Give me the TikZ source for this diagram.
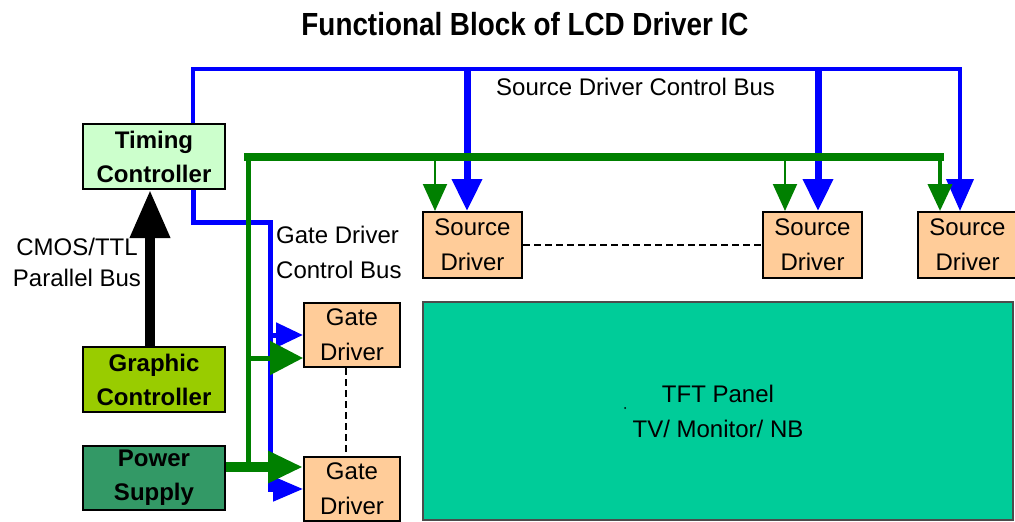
\documentclass[tikz,border=0pt]{standalone}
\usepackage{fontspec}
\setmainfont{Liberation Sans}
\usetikzlibrary{arrows.meta}

\definecolor{busblue}{HTML}{0000FF}
\definecolor{busgreen}{HTML}{008000}
\definecolor{drvfill}{HTML}{FFCC99}
\definecolor{tcfill}{HTML}{CCFFCC}
\definecolor{gcfill}{HTML}{99CC00}
\definecolor{psfill}{HTML}{339966}
\definecolor{tftfill}{HTML}{00CC99}

\tikzset{
  block/.style={draw=black, line width=2pt, inner sep=0pt, align=center},
  ctrlblock/.style={block, minimum width=142pt, minimum height=65pt,
    font=\bfseries\fontsize{24}{34}\selectfont},
  drvblock/.style={block, fill=drvfill, font=\fontsize{24}{35}\selectfont},
  buslabel/.style={inner sep=0pt, font=\fontsize{24}{35}\selectfont},
  sbus/.style={draw=busblue, line width=4pt},
  gbus/.style={draw=busgreen, line width=5pt},
  linkdash/.style={draw=black, line width=1.5pt, dash pattern=on 7pt off 4pt},
}

\begin{document}
\begin{tikzpicture}[x=1pt,y=-1pt]
    \useasboundingbox (0,0) rectangle (1015,522);
    % Title
    \node[font=\bfseries\fontsize{32}{36}\selectfont] (title) at (525,24)
        {\scalebox{0.87}[1]{Functional Block of LCD Driver IC}};
    % Controller blocks
    \node[ctrlblock, fill=tcfill] (tc) at (154,156.5) {Timing\\Controller};
    \node[ctrlblock, fill=gcfill] (gc) at (154,379.5) {Graphic\\Controller};
    \node[ctrlblock, fill=psfill, minimum height=64pt] (ps) at (154,478) {Power\\Supply};
    % Driver blocks
    \foreach \n/\x in {sd1/472.5, sd2/812.5, sd3/967.5} {
        \node[drvblock, minimum width=99pt, minimum height=66pt] (\n) at (\x,245) {Source\\Driver};
    }
    \foreach \n/\y in {gd1/335, gd2/489} {
        \node[drvblock, minimum width=96pt, minimum height=64pt] (\n) at (352,\y) {Gate\\Driver};
    }
    % Panel
    \node[draw=black!70, line width=1.5pt, fill=tftfill, minimum width=590pt, minimum height=218pt,
          align=center, font=\fontsize{24}{35}\selectfont] (tft) at (718,411) {TFT Panel\\TV/ Monitor/ NB};
    \fill (625,408) circle (1pt);
    % Labels
    \node[buslabel, anchor=west] (sdcb) at (496,87) {Source Driver Control Bus};
    \node[buslabel, anchor=west, align=left] (gdcb) at (276,252.5) {Gate Driver\\Control Bus};
    \node[buslabel, align=center, font=\fontsize{24}{31}\selectfont] (cmos) at (77,262.5) {CMOS/TTL\\Parallel Bus};

    % Source driver control bus
    \coordinate (sbl) at (193,69);
    \coordinate (sbr) at (960,69);
    \draw[sbus, -{Triangle[length=32pt,width=27pt]}] (tc.north -| sbl) -- (sbl) -- (sbr) -- (sbr |- sd3.north);
    \foreach \n/\x in {sd1/467, sd2/818} {
        \coordinate (drop) at (\x,69);
        \draw[sbus, line width=7pt, -{Triangle[length=32pt,width=29pt]}] (drop) -- (drop |- \n.north);
    }
    % Gate driver control bus
    \coordinate (gcb) at (270,222);
    \draw[sbus, line width=5pt, -{Triangle[length=30pt,width=24pt]}] (tc.south -| sbl) |- (gcb) -- (gcb |- gd2.west) -- (gd2.west);
    \draw[sbus, line width=5pt, -{Triangle[length=27pt,width=24pt]}] (gcb |- gd1.west) -- (gd1.west);

    % Power bus
    \coordinate (gbl) at (248,157);
    \coordinate (gbr) at (940,157);
    \coordinate (pj) at (248,467);
    \coordinate (gj) at (248,358);
    \draw[gbus] (gbl) -- (pj);
    \draw[gbus, line width=8pt, line cap=rect] (gbl) -- (gbr);
    \draw[gbus, line width=4pt, -{Triangle[length=27pt,width=24pt]}] (gbr) -- (gbr |- sd3.north);
    \foreach \n/\x in {sd1/435, sd2/785} {
        \coordinate (drop) at (\x,157);
        \draw[gbus, line width=2pt, -{Triangle[length=27pt,width=24pt]}] (drop) -- (drop |- \n.north);
    }
    \draw[gbus, line width=10pt, -{Triangle[length=35pt,width=30pt]}] (pj -| ps.east) -- (pj -| gd2.west);
    \draw[gbus, -{Triangle[length=33pt,width=33pt]}] (gj) -- (gj -| gd1.west);

    % Parallel bus
    \draw[line width=10pt, -{Triangle[length=48pt,width=38pt]}] ([xshift=-4pt]gc.north) -- ([xshift=-4pt]tc.south);

    % Repeated drivers
    \draw[linkdash] (sd1) -- (sd2);
    \draw[linkdash] ([xshift=-6pt]gd1.south) -- ([xshift=-6pt]gd2.north);
\end{tikzpicture}
\end{document}
